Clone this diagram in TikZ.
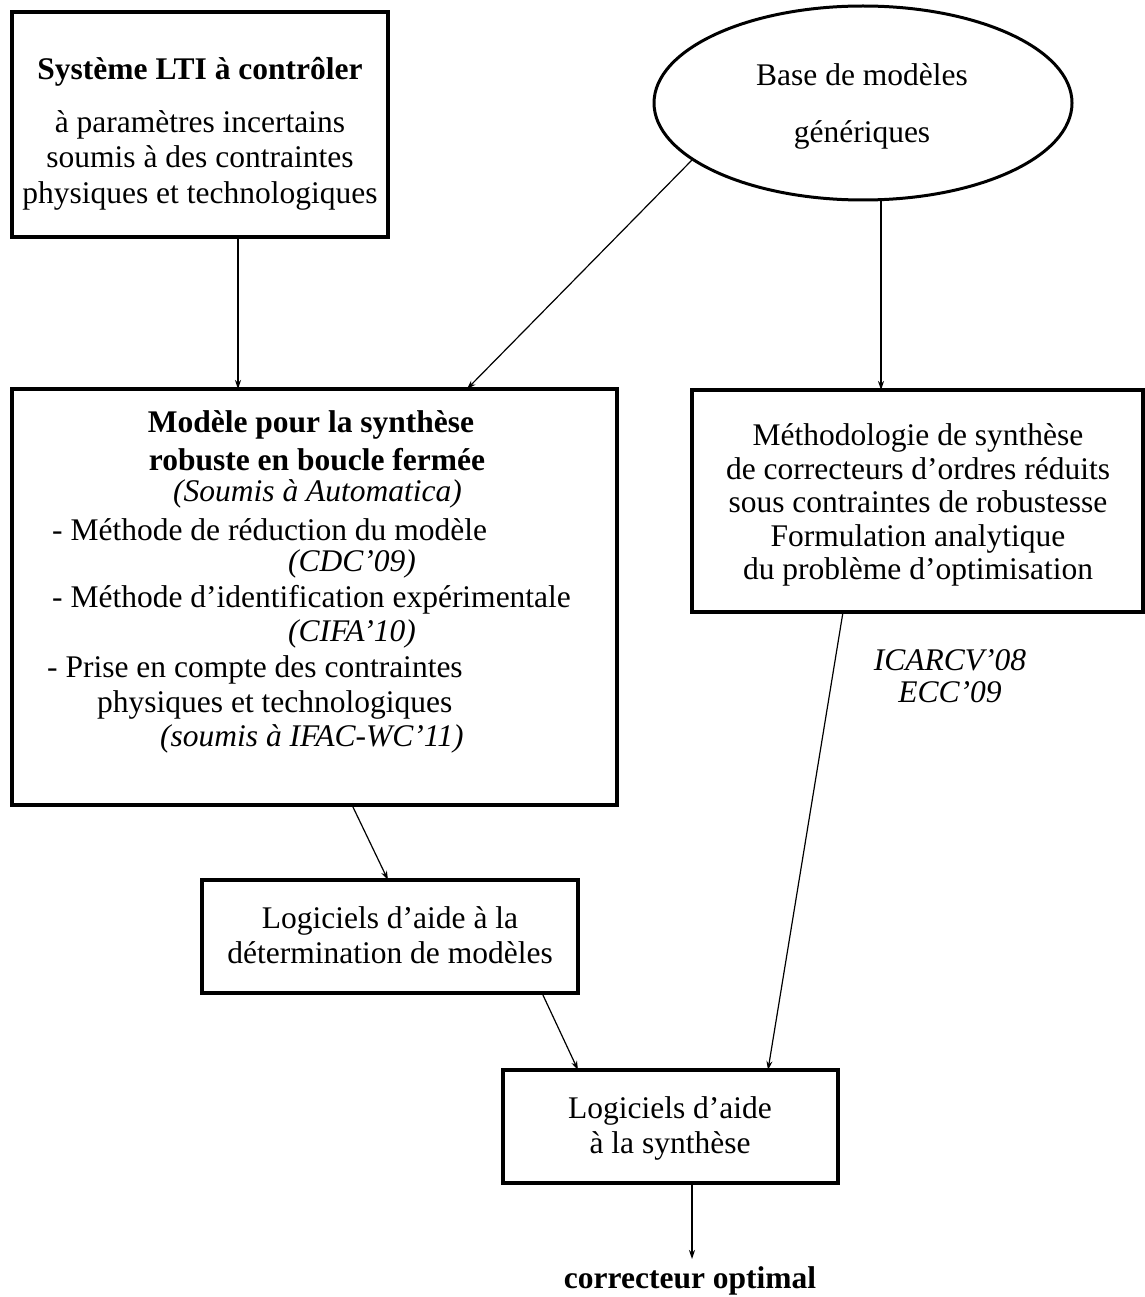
\documentclass[tikz,border=0pt]{standalone}
\usepackage{fontspec}
\setmainfont{Liberation Serif}
\usetikzlibrary{arrows.meta,calc,shapes.geometric}
\newcommand{\fs}[1]{\fontsize{31.5pt}{#1}\selectfont}
\begin{document}
\begin{tikzpicture}[x=1pt,y=-1pt,
  box/.style={draw,line width=3.5pt,inner sep=0pt,outer sep=0pt},
  lbl/.style={inner sep=0pt,font=\fs{34pt},align=center},
  conn/.style={line width=1.2pt,-{Stealth[length=9pt,width=6pt]}}]
\useasboundingbox (0,0) rectangle (1144,1297);
% boxes
\node[box,minimum width=376pt,minimum height=225pt] (box1) at (200,124.5) {};
\node[draw,line width=3pt,ellipse,inner sep=0pt,outer sep=0pt,minimum width=418pt,minimum height=194pt] (ell) at (863,103) {};
\node[box,minimum width=605pt,minimum height=416pt] (mod) at (314.5,597) {};
\node[box,minimum width=451pt,minimum height=222pt] (meth) at (917.5,501) {};
\node[box,minimum width=376pt,minimum height=113pt] (logm) at (390,936.5) {};
\node[box,minimum width=335pt,minimum height=113pt] (syn) at (670.5,1126.5) {};
% texts
\node[lbl,font=\fs{34pt}\bfseries] (t1) at (200,72) {Système LTI à contrôler};
\node[lbl,font=\fs{35.5pt}] (t2) at (200,160) {à paramètres incertains\\soumis à des contraintes\\physiques et technologiques};
\node[lbl,font=\fs{57pt}] (te) at (862,106) {Base de modèles\\génériques};
\node[lbl,font=\fs{33.5pt}] (tm) at (918,505) {Méthodologie de synthèse\\de correcteurs d’ordres réduits\\sous contraintes de robustesse\\Formulation analytique\\du problème d’optimisation};
\node[lbl,font=\fs{32pt}\itshape] (tc) at (950,676) {ICARCV’08\\ECC’09};
\node[lbl,font=\fs{35pt}] (tl) at (390,935) {Logiciels d’aide à la\\détermination de modèles};
\node[lbl,font=\fs{35pt}] (ts) at (670,1128) {Logiciels d’aide\\à la synthèse};
\node[lbl,font=\fs{34pt}\bfseries] (out) at (690,1281) {correcteur optimal};
% model box lines
\node[lbl,font=\fs{34pt}\bfseries] (m1) at (311,425) {Modèle pour la synthèse};
\node[lbl,font=\fs{34pt}\bfseries] (m2) at (317,460) {robuste en boucle fermée};
\node[lbl,anchor=west,font=\fs{34pt}\itshape] (m3) at (173,494) {(Soumis à Automatica)};
\node[lbl,anchor=west] (m4) at (52,530) {- Méthode de réduction du modèle};
\node[lbl,anchor=west,font=\fs{34pt}\itshape] (m5) at (288,564) {(CDC’09)};
\node[lbl,anchor=west] (m6) at (52,600) {- Méthode d’identification expérimentale};
\node[lbl,anchor=west,font=\fs{34pt}\itshape] (m7) at (288,634) {(CIFA’10)};
\node[lbl,anchor=west] (m8) at (47,670) {- Prise en compte des contraintes};
\node[lbl,anchor=west] (m9) at (97,705) {physiques et technologiques};
\node[lbl,anchor=west,font=\fs{34pt}\itshape] (m10) at (160,739) {(soumis à IFAC-WC’11)};
% connectors
\coordinate (end) at (692,1259);
\draw[conn] ($(box1.south west)+(226,0)$) -- ($(mod.north west)+(226,0)$);
\draw[conn] ($(ell.center)+(-171,57)$) -- ($(mod.north west)+(455,0)$);
\draw[conn] ($(ell.south)+(18,0)$) -- ($(meth.north west)+(189,0)$);
\draw[conn] ($(mod.south west)+(340,0)$) -- ($(logm.north west)+(186,0)$);
\draw[conn] ($(logm.south west)+(340,0)$) -- ($(syn.north west)+(75,0)$);
\draw[conn] ($(meth.south west)+(151,0)$) -- ($(syn.north west)+(265,0)$);
\draw[conn] ($(syn.south west)+(189,0)$) -- (end);
\end{tikzpicture}
\end{document}
